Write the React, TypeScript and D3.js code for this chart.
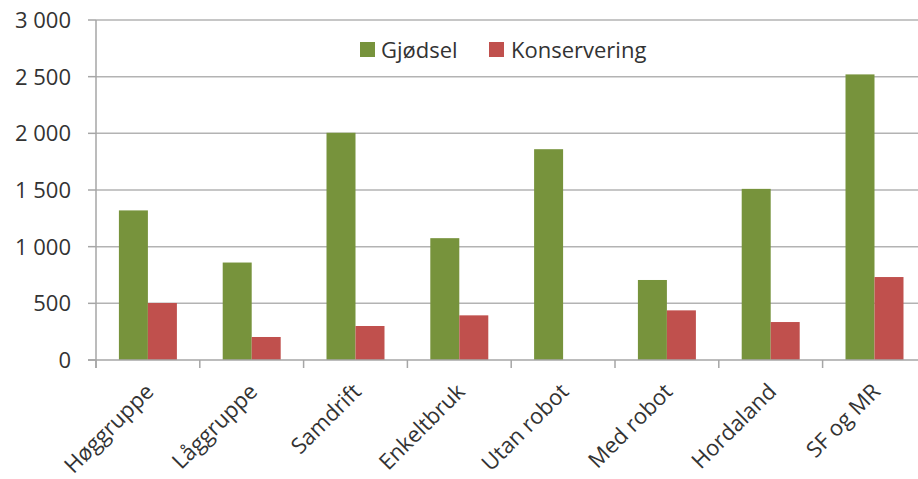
import React from "react";
import * as d3 from "d3";

const categories = ["Høggruppe", "Låggruppe", "Samdrift", "Enkeltbruk", "Utan robot", "Med robot", "Hordaland", "SF og MR"];
const gjodsel = [1320, 860, 2005, 1075, 1860, 706, 1510, 2520];
const konservering = [503, 203, 300, 394, 0, 438, 335, 732];
const seriesNames = ["Gjødsel", "Konservering"];
const seriesColors = ["#77933C", "#C0504D"];
const yTicks = [0, 500, 1000, 1500, 2000, 2500, 3000];

const W = 918;
const H = 479;
const FONT = "'Open Sans', sans-serif";

function fmt(v: number) {
  const s = String(v);
  return s.length > 3 ? s.slice(0, s.length - 3) + " " + s.slice(-3) : s;
}

export default function App() {
  const x0 = d3.scaleBand<string>().domain(categories).range([96, 926.4]).padding(0);
  const x1 = d3.scaleBand<string>().domain(seriesNames).range([0, x0.bandwidth()]).paddingInner(0).paddingOuter(0.79);
  const y = d3.scaleLinear().domain([0, 3000]).range([360, 20]);
  const values = [gjodsel, konservering];
  const bounds = categories.map((c) => x0(c)!).concat([x0.range()[1]]);

  return (
    <svg width={W} height={H} style={{ position: "absolute", left: 0, top: 0, background: "#fff" }} fontFamily={FONT}>
      {yTicks.map((t) => (
        <g key={t}>
          {t > 0 && <line x1={96} x2={W} y1={y(t)} y2={y(t)} stroke="#b3b3b3" strokeWidth={1.5} />}
          <line x1={88} x2={96} y1={y(t)} y2={y(t)} stroke="#a6a6a6" strokeWidth={1.5} />
          <text x={71} y={y(t)} dy="0.36em" textAnchor="end" fontSize={22} fill="#333">{fmt(t)}</text>
        </g>
      ))}
      {categories.map((c, i) => (
        <g key={c}>
          {seriesNames.map((s, j) => {
            const v = values[j][i];
            if (!v) return null;
            return (
              <rect key={s} x={x0(c)! + x1(s)!} y={y(v)} width={x1.bandwidth()} height={y(0) - y(v)} fill={seriesColors[j]} />
            );
          })}
        </g>
      ))}
      <line x1={96} x2={96} y1={20} y2={368} stroke="#a6a6a6" strokeWidth={1.5} />
      <line x1={88} x2={W} y1={360} y2={360} stroke="#a6a6a6" strokeWidth={1.5} />
      {bounds.map((b, i) => (
        <line key={i} x1={b} x2={b} y1={360} y2={368} stroke="#a6a6a6" strokeWidth={1.5} />
      ))}
      {categories.map((c) => {
        const cx = x0(c)! + x0.bandwidth() / 2 + 7;
        const cy = 393;
        return (
          <text key={c} x={cx} y={cy} textAnchor="end" fontSize={22} fill="#333" transform={`rotate(-45 ${cx} ${cy})`}>{c}</text>
        );
      })}
      <g>
        <rect x={360} y={42} width={15} height={15} fill={seriesColors[0]} />
        <text x={381} y={50} dy="0.36em" fontSize={22} fill="#333">{seriesNames[0]}</text>
        <rect x={489} y={42} width={15} height={15} fill={seriesColors[1]} />
        <text x={511} y={50} dy="0.36em" fontSize={22} fill="#333">{seriesNames[1]}</text>
      </g>
    </svg>
  );
}
